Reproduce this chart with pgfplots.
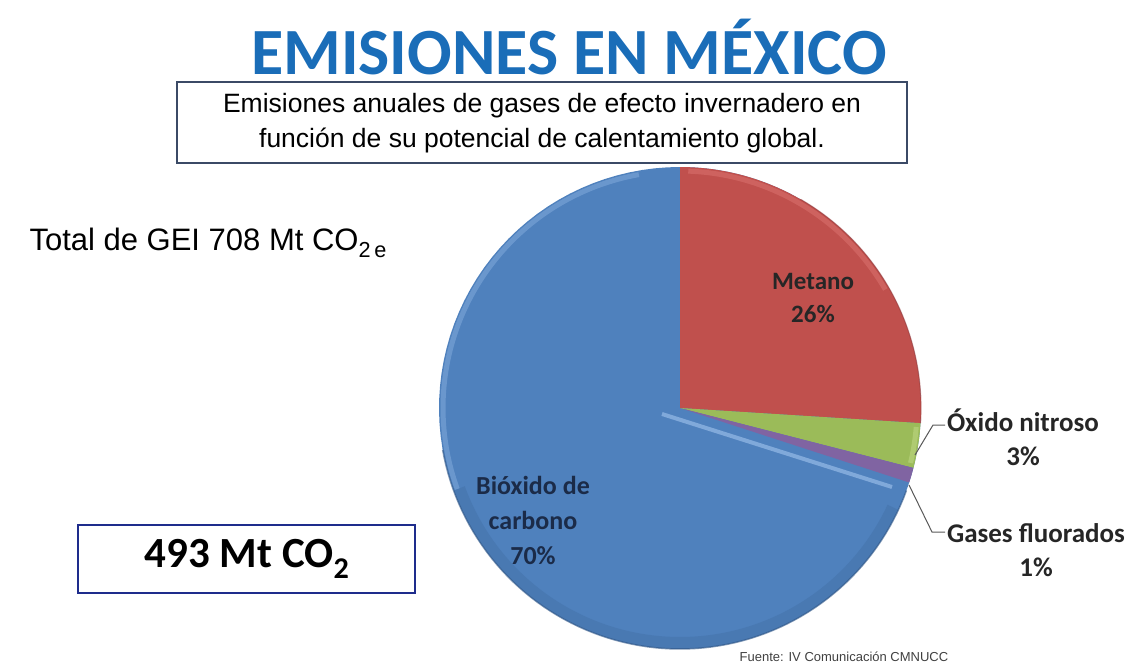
\documentclass[border=0pt]{standalone}
\usepackage{pgfplots}
\pgfplotsset{compat=1.18}
\usepackage{fontspec}
\setmainfont{Liberation Sans}
\newfontfamily\carlito{Carlito}
\definecolor{cBlue}{HTML}{4F81BD}
\definecolor{cBlueL}{HTML}{8DB3E2}
\definecolor{cBlueD}{HTML}{2F5585}
\definecolor{cRed}{HTML}{C0504D}
\definecolor{cRedL}{HTML}{E07A76}
\definecolor{cRedD}{HTML}{9C3A37}
\definecolor{cGreen}{HTML}{9BBB59}
\definecolor{cGreenL}{HTML}{C3DC8A}
\definecolor{cPurple}{HTML}{8064A2}
\definecolor{cTitle}{HTML}{1A6DB8}
\definecolor{cBox}{HTML}{3B4A66}
\definecolor{cBox2}{HTML}{1E2C8C}
\definecolor{cLab}{HTML}{262626}
\definecolor{cLabB}{HTML}{1B2B48}
% shares in percent
\def\vMet{26}
\def\vNit{3}
\def\vFlu{1}
\def\vCO{70}
\pgfmathsetmacro\aA{90}
\pgfmathsetmacro\aB{90-\vMet*3.6}
\pgfmathsetmacro\aC{\aB-\vNit*3.6}
\pgfmathsetmacro\aD{\aC-\vFlu*3.6}
\pgfmathsetmacro\aE{\aD-\vCO*3.6}
\def\cx{680}
\def\cy{408}
\def\R{241}
\begin{document}
\begin{tikzpicture}
\begin{axis}[
  scale only axis, width=1139bp, height=664bp,
  xmin=0, xmax=1139, ymin=0, ymax=664, y dir=reverse,
  hide axis, clip=false,
]
\path (0,0) rectangle (1139,664);
% slices
\addplot[fill=cBlue, draw=none, domain=\aE+360:\aA+360, samples=120, variable=\t]
  ({\cx+\R*cos(\t)},{\cy-\R*sin(\t)}) -- (\cx,\cy) -- cycle;
\addplot[fill=cRed, draw=none, domain=\aB:\aA, samples=60, variable=\t]
  ({\cx+\R*cos(\t)},{\cy-\R*sin(\t)}) -- (\cx,\cy) -- cycle;
\addplot[fill=cGreen, draw=none, domain=\aC:\aB, samples=10, variable=\t]
  ({\cx+\R*cos(\t)},{\cy-\R*sin(\t)}) -- (\cx,\cy) -- cycle;
\addplot[fill=cPurple, draw=none, domain=\aD:\aC, samples=5, variable=\t]
  ({\cx+\R*cos(\t)},{\cy-\R*sin(\t)}) -- (\cx,\cy) -- cycle;
% bevel rims
\addplot[cBlueD, line width=12bp, opacity=0.18, domain=200:335, samples=80, variable=\t]
  ({\cx+(\R-6)*cos(\t)},{\cy-(\R-6)*sin(\t)});
\addplot[cBlueL, line width=5bp, opacity=0.45, domain=100:200, samples=80, variable=\t]
  ({\cx+(\R-4)*cos(\t)},{\cy-(\R-4)*sin(\t)});
\addplot[cRedL, line width=5bp, opacity=0.45, domain=30:\aA-2, samples=60, variable=\t]
  ({\cx+(\R-4)*cos(\t)},{\cy-(\R-4)*sin(\t)});
\addplot[cGreenL, line width=5bp, opacity=0.5, domain=\aC+1:\aB-1, samples=10, variable=\t]
  ({\cx+(\R-4)*cos(\t)},{\cy-(\R-4)*sin(\t)});
\addplot[cBlueD, line width=1.5bp, opacity=0.6, domain=190:340, samples=80, variable=\t]
  ({\cx+\R*cos(\t)},{\cy-\R*sin(\t)});
\addplot[cRedD, line width=1.2bp, opacity=0.5, domain=\aB:60, samples=40, variable=\t]
  ({\cx+\R*cos(\t)},{\cy-\R*sin(\t)});
\addplot[cBlueL, line width=4bp, opacity=0.8] coordinates {(\cx-18,\cy+6) (\cx+212,\cy+79)};
% title
\node[font=\carlito\bfseries\fontsize{66bp}{70bp}\selectfont, text=cTitle] at (569,47) {EMISIONES EN MÉXICO};
% subtitle box
\draw[cBox, line width=1.5bp] (177,82) rectangle (907,163);
\node[align=center, font=\fontsize{26.5bp}{35bp}\selectfont, text=black] at (542,123)
  {Emisiones anuales de gases de efecto invernadero en\\función de su potencial de calentamiento global.};
% total
\node[anchor=west, font=\fontsize{31bp}{34bp}\selectfont, text=black] at (26,243)
  {Total de GEI 708 Mt CO\textsubscript{2\,e}};
% 493 box
\draw[cBox2, line width=2.5bp] (78,525) rectangle (415,593);
\node[font=\carlito\bfseries\fontsize{43bp}{46bp}\selectfont, text=black] at (247,559)
  {493 Mt CO\textsubscript{2}};
% slice labels
\node[align=center, font=\carlito\bfseries\fontsize{25bp}{33bp}\selectfont, text=cLab] at (813,298)
  {Metano\\\vMet\%};
\node[align=center, font=\carlito\bfseries\fontsize{26bp}{35bp}\selectfont, text=cLabB] at (533,520)
  {Bióxido de\\carbono\\\vCO\%};
\node[align=center, font=\carlito\bfseries\fontsize{27bp}{34bp}\selectfont, text=cLab] at (1023,437)
  {Óxido nitroso\\\vNit\%};
\node[align=center, font=\carlito\bfseries\fontsize{27bp}{34bp}\selectfont, text=cLab] at (1036,550)
  {Gases fluorados\\\vFlu\%};
% leader lines
\draw[gray!70!black, line width=1bp] (915,455) -- (933,425) -- (945,425);
\draw[gray!70!black, line width=1bp] (909,485) -- (932,532) -- (945,532);
% source
\node[font=\fontsize{13bp}{15bp}\selectfont, text=black!75] at (844,657)
  {Fuente: IV Comunicación CMNUCC};
\end{axis}
\end{tikzpicture}
\end{document}
